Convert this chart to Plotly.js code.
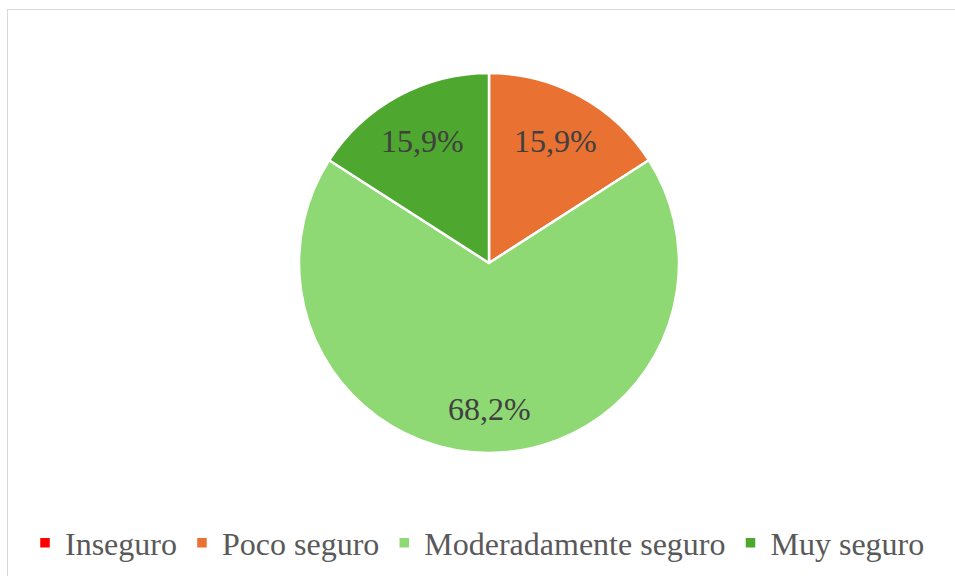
<!DOCTYPE html>
<html><head><meta charset="utf-8">
<script src="https://cdn.plot.ly/plotly-3.0.1.min.js"></script>
</head>
<body style="margin:0;padding:0;background:#fff;">
<div id="wrap" style="position:relative;width:955px;height:576px;overflow:hidden;">
<div id="chart" style="position:absolute;left:0;top:0;width:955px;height:576px;"></div>
<div id="frame" style="position:absolute;left:7px;top:9px;width:960px;height:600px;border:1.5px solid #d9d9d9;pointer-events:none;"></div>
</div>
<script>
const categories = ["Inseguro", "Poco seguro", "Moderadamente seguro", "Muy seguro"];
const percentages = [0, 15.9, 68.2, 15.9];
const labelsText = ["0,0%", "15,9%", "68,2%", "15,9%"];
const colors = ["#FF0000", "#E97132", "#8ED973", "#4EA72E"];

const FONT = "Times New Roman";
const CX = 489, CY = 263, R = 190, W = 955, H = 576;

const trace = {
  type: "pie",
  labels: categories,
  values: percentages,
  textinfo: "none",
  sort: false,
  direction: "clockwise",
  rotation: 0,
  marker: {colors: colors, line: {color: "#ffffff", width: 2.5}},
  hoverinfo: "label+percent",
  domain: {x: [(CX-R)/W, (CX+R)/W], y: [(H-CY-R)/H, (H-CY+R)/H]}
};

// data labels at mid-angle of each slice (Excel-like placement)
const total = percentages.reduce((a, b) => a + b, 0);
let cum = 0;
const annotations = [];
percentages.forEach((v, i) => {
  const mid = (cum + v / 2) / total * 2 * Math.PI;
  cum += v;
  if (v <= 0) return;
  const rf = v > 50 ? 0.77 : 0.73;
  annotations.push({
    xref: "paper", yref: "paper",
    x: (CX + rf * R * Math.sin(mid)) / W,
    y: (H - CY + rf * R * Math.cos(mid)) / H,
    text: labelsText[i], showarrow: false,
    xanchor: "center", yanchor: "middle",
    font: {family: FONT, size: 32, color: "#404040"}
  });
});

const layout = {
  width: W, height: H,
  margin: {l: 0, r: 0, t: 0, b: 0},
  paper_bgcolor: "#ffffff",
  font: {family: FONT, color: "#595959"},
  showlegend: true,
  annotations: annotations,
  legend: {
    orientation: "h", x: 0.5, xanchor: "center", y: 1 - 543/576, yanchor: "middle",
    font: {family: FONT, size: 32, color: "#595959"},
    itemwidth: 30, tracegroupgap: 0
  }
};

function forceSerif() {
  document.querySelectorAll("#chart text").forEach(el => {
    el.style.setProperty("font-family", "'Liberation Serif', 'Times New Roman', Tinos, serif", "important");
  });
}

Plotly.newPlot("chart", [trace], layout, {displayModeBar: false}).then(() => {
  forceSerif();
  document.getElementById("chart").on && document.getElementById("chart").on("plotly_afterplot", forceSerif);
});
</script></body></html>
